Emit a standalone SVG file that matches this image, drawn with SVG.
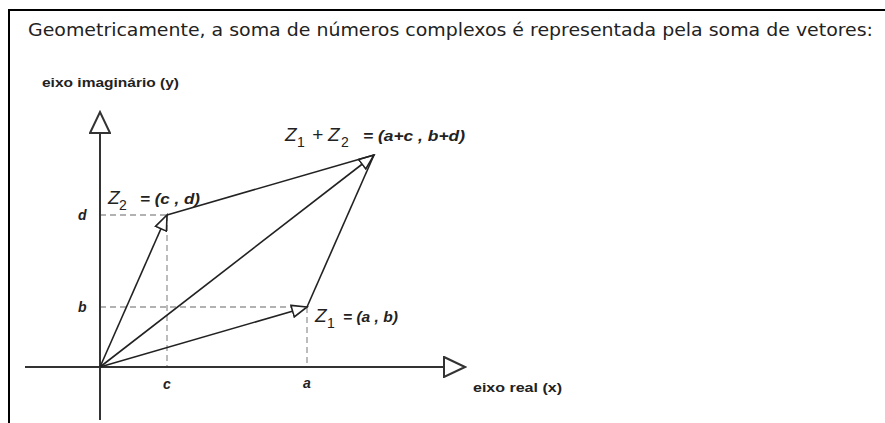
<svg xmlns="http://www.w3.org/2000/svg" width="885" height="423" viewBox="0 0 885 423">
<defs>
<style>
.frame{stroke:#000;stroke-width:2;fill:none}
.axis{stroke:#333;stroke-width:2;fill:none}
.vec{stroke:#222;stroke-width:1.6;fill:none}
.dash{stroke:#999;stroke-width:1.3;stroke-dasharray:6,4;fill:none}
.title{font-family:"DejaVu Sans","Liberation Sans",sans-serif;font-size:18px;fill:#222}
.lbl{font-family:"Liberation Sans",Arial,sans-serif;font-weight:bold;font-size:13px;fill:#222}
.z{font-family:"Liberation Sans",Arial,sans-serif;font-style:italic;font-size:19px;fill:#222}
.sub{font-family:"Liberation Sans",Arial,sans-serif;font-size:14px;fill:#222}
.eq{font-family:"Liberation Sans",Arial,sans-serif;font-style:italic;font-weight:bold;font-size:14px;fill:#222}
.tick{font-family:"Liberation Sans",Arial,sans-serif;font-style:italic;font-weight:bold;font-size:14px;fill:#222}
</style>
<marker id="hollow" markerWidth="18" markerHeight="14" refX="16" refY="7" orient="auto" markerUnits="userSpaceOnUse">
<path d="M1,1 L16,7 L1,13 Z" fill="#fff" stroke="#222" stroke-width="1.6"/>
</marker>
<marker id="axarrow" markerWidth="24" markerHeight="22" refX="22" refY="11" orient="auto" markerUnits="userSpaceOnUse">
<path d="M1,1 L22,11 L1,21 Z" fill="#fff" stroke="#333" stroke-width="2"/>
</marker>
</defs>
<rect width="885" height="423" fill="#fff"/>
<path class="frame" d="M9,423 L9,10 L885,10"/>
<text class="title" x="28" y="36" textLength="845" lengthAdjust="spacingAndGlyphs">Geometricamente, a soma de números complexos é representada pela soma de vetores:</text>

<g id="dashes">
<path class="dash" d="M100,215 H167 M167,215 V367 M100,307 H307 M307,307 V367"/>
</g>

<g id="connectors">
<path class="axis" d="M100,420 V112" marker-end="url(#axarrow)"/>
<path class="axis" d="M25,367 H465" marker-end="url(#axarrow)"/>
<path class="vec" d="M100,367 L307,307" marker-end="url(#hollow)"/>
<path class="vec" d="M100,367 L167,215" marker-end="url(#hollow)"/>
<path class="vec" d="M100,367 L374,155" marker-end="url(#hollow)"/>
<path class="vec" d="M167,215 L374,155"/>
<path class="vec" d="M307,307 L374,155"/>
</g>

<g id="axis-labels">
<text class="lbl" x="42" y="87" textLength="137" lengthAdjust="spacingAndGlyphs">eixo imaginário (y)</text>
<text class="lbl" x="473" y="392" textLength="89" lengthAdjust="spacingAndGlyphs">eixo real (x)</text>
<text class="tick" x="78" y="220">d</text>
<text class="tick" x="78" y="312">b</text>
<text class="tick" x="163" y="389">c</text>
<text class="tick" x="303" y="388">a</text>
</g>

<g id="z2-label">
<text class="z" x="108" y="204">Z</text>
<text class="sub" x="119" y="210">2</text>
<text class="eq" x="140" y="204" textLength="60" lengthAdjust="spacingAndGlyphs">= (c , d)</text>
</g>
<g id="sum-label">
<text class="z" x="285" y="141">Z</text>
<text class="sub" x="297" y="147">1</text>
<text class="z" x="312" y="141">+</text>
<text class="z" x="328" y="141">Z</text>
<text class="sub" x="341" y="147">2</text>
<text class="eq" x="363" y="141" textLength="102" lengthAdjust="spacingAndGlyphs">= (a+c , b+d)</text>
</g>
<g id="z1-label">
<text class="z" x="315" y="322">Z</text>
<text class="sub" x="327" y="328">1</text>
<text class="eq" x="343" y="322" textLength="55" lengthAdjust="spacingAndGlyphs">= (a , b)</text>
</g>
</svg>
